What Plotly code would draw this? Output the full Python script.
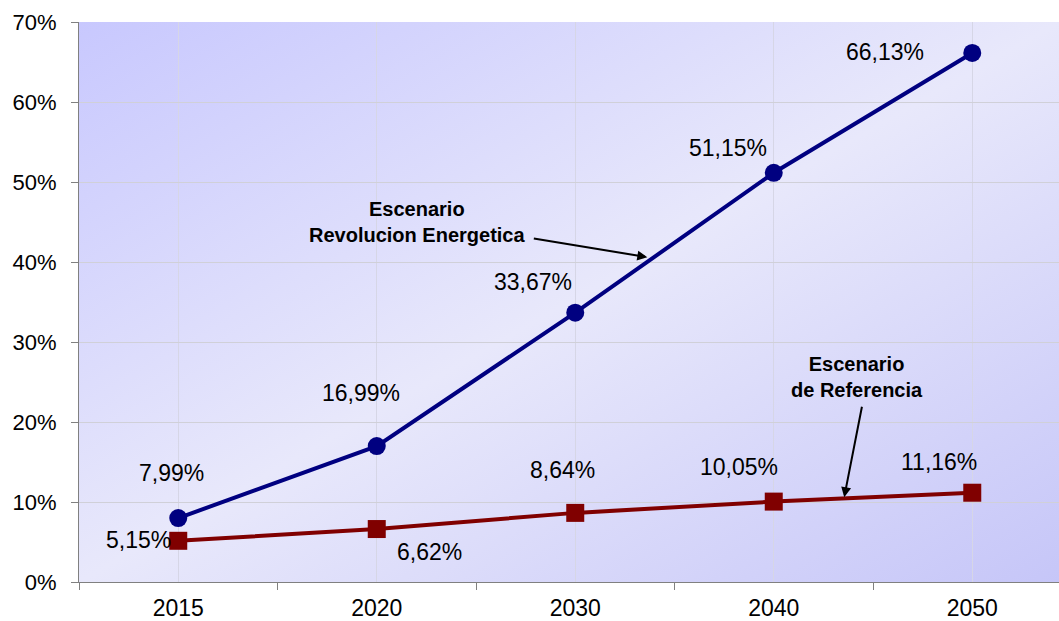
import base64
import plotly.graph_objects as go

years = ["2015", "2020", "2030", "2040", "2050"]
revolucion = [7.99, 16.99, 33.67, 51.15, 66.13]
referencia = [5.15, 6.62, 8.64, 10.05, 11.16]
y_ticks = [0, 10, 20, 30, 40, 50, 60, 70]

xpos = list(range(len(years)))
FONT = "Liberation Sans, Arial, sans-serif"

# label offsets in pixels (dx, dy) relative to each point, dy downward
rev_off = [(-7, -45), (-16, -53), (-42, -31), (-46, -25), (-87, -1)]
ref_off = [(-40, -1), (53, 23), (-13, -43), (-35, -35), (-33, -31)]


def fmt(v):
    return f"{v:.2f}".replace(".", ",") + "%"


# diagonal gradient for the plot background
svg = (
    '<svg xmlns="http://www.w3.org/2000/svg" width="100" height="100" preserveAspectRatio="none">'
    '<defs><linearGradient id="g" x1="0" y1="0" x2="1" y2="1">'
    '<stop offset="0" stop-color="#c8c8fe"/>'
    '<stop offset="0.5" stop-color="#e8e8fb"/>'
    '<stop offset="1" stop-color="#c6c6f8"/>'
    '</linearGradient></defs>'
    '<rect width="100" height="100" fill="url(#g)"/></svg>'
)
bg_src = "data:image/svg+xml;base64," + base64.b64encode(svg.encode()).decode()

fig = go.Figure()
fig.add_trace(go.Scatter(
    x=xpos, y=revolucion, mode="lines+markers",
    line=dict(color="#000080", width=4),
    marker=dict(symbol="circle", size=18, color="#000080"),
    name="Escenario Revolucion Energetica",
))
fig.add_trace(go.Scatter(
    x=xpos, y=referencia, mode="lines+markers",
    line=dict(color="#800000", width=4),
    marker=dict(symbol="square", size=18, color="#800000"),
    name="Escenario de Referencia",
))

for series, offs in ((revolucion, rev_off), (referencia, ref_off)):
    for i, v in enumerate(series):
        fig.add_annotation(
            x=xpos[i], y=v, text=fmt(v), showarrow=False,
            xshift=offs[i][0], yshift=-offs[i][1],
            font=dict(family=FONT, size=23, color="black"),
        )

# callouts
fig.add_annotation(
    x=1.204, y=45, text="<b>Escenario<br>Revolucion Energetica</b>",
    showarrow=False, align="center",
    font=dict(family=FONT, size=20, color="black"),
)
fig.add_annotation(
    x=2.363, y=40.6, ax=-115, ay=-19, text="", showarrow=True,
    arrowhead=2, arrowsize=1, arrowwidth=2, arrowcolor="black",
)
fig.add_annotation(
    x=3.42, y=25.6, text="<b>Escenario<br>de Referencia</b>",
    showarrow=False, align="center",
    font=dict(family=FONT, size=20, color="black"),
)
fig.add_annotation(
    x=3.355, y=10.6, ax=18, ay=-92, text="", showarrow=True,
    arrowhead=2, arrowsize=1, arrowwidth=2, arrowcolor="black",
)

fig.add_layout_image(dict(
    source=bg_src, xref="paper", yref="paper", x=0, y=1,
    sizex=1, sizey=1, sizing="stretch", layer="below",
))

fig.update_layout(
    width=1059, height=621,
    margin=dict(l=79, r=0, t=22, b=39),
    paper_bgcolor="white",
    plot_bgcolor="rgba(0,0,0,0)",
    showlegend=False,
    font=dict(family=FONT, size=22, color="black"),
    xaxis=dict(
        range=[-0.5, 4.437], tickvals=xpos, ticktext=years,
        tickfont=dict(size=23),
        showgrid=True, gridcolor="#d6d6e6", gridwidth=1,
        showline=True, linecolor="#808080", linewidth=1,
        ticks="", ticklabelstandoff=5, automargin=False,
        minor=dict(tickmode="linear", tick0=-0.5, dtick=1, ticks="outside",
                   ticklen=7, tickcolor="#808080", showgrid=False),
        zeroline=False, fixedrange=True,
    ),
    yaxis=dict(
        range=[0, 70], tickvals=y_ticks, ticktext=[f"{t}%" for t in y_ticks],
        showgrid=True, gridcolor="#d0d0d8", gridwidth=1,
        showline=True, linecolor="#808080", linewidth=1,
        ticks="outside", ticklen=7, tickcolor="#808080", automargin=False,
        ticklabelstandoff=10, zeroline=False, fixedrange=True,
    ),
)

fig.write_html("out.html", config={"displayModeBar": False},
               post_script="document.body.style.margin='0';")
